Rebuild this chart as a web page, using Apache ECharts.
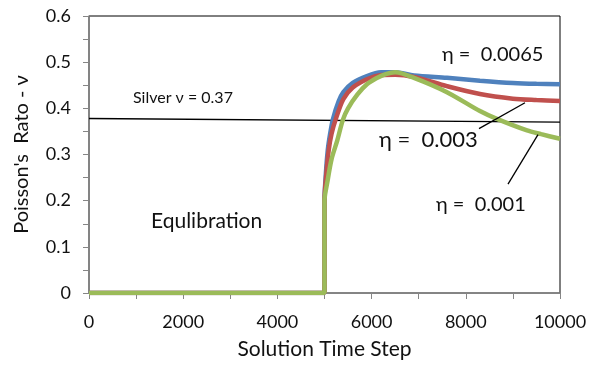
<!DOCTYPE html>
<html>
<head>
<meta charset="UTF-8">
<title>Poisson's ratio</title>
<script src="https://cdn.jsdelivr.net/npm/echarts@6/dist/echarts.min.js"></script>
</head>
<body style="margin:0">
<div id="chart" style="width:597px;height:365px;"></div>
<script type="text/javascript">
// eta = 0.0065
var blueX = [0, 5000, 5000, 5030, 5070, 5120, 5180, 5300, 5400, 5600, 5900, 6200, 6500, 6900, 7600, 8300, 9000, 9500, 10000];
var blueY = [0, 0, 0.2, 0.26, 0.31, 0.345, 0.377, 0.415, 0.435, 0.455, 0.47, 0.478, 0.478, 0.471, 0.466, 0.46, 0.455, 0.453, 0.452];
// eta = 0.003
var redX = [0, 5000, 5000, 5040, 5090, 5150, 5250, 5400, 5600, 5900, 6200, 6500, 6900, 7600, 8300, 9000, 9500, 10000];
var redY = [0, 0, 0.2, 0.26, 0.31, 0.345, 0.38, 0.42, 0.445, 0.463, 0.472, 0.473, 0.468, 0.448, 0.431, 0.421, 0.418, 0.416];
// eta = 0.001
var greenX = [0, 5000, 5000, 5060, 5150, 5270, 5390, 5500, 5700, 5900, 6100, 6300, 6500, 6900, 7600, 8300, 8660, 9300, 9600, 10000];
var greenY = [0, 0, 0.2, 0.24, 0.29, 0.33, 0.375, 0.4, 0.43, 0.452, 0.465, 0.474, 0.478, 0.466, 0.435, 0.394, 0.377, 0.352, 0.344, 0.334];
// silver reference line
var silverX = [0, 10000];
var silverY = [0.378, 0.370];

function pairs(xs, ys) {
	return xs.map(function(x, i) { return [x, ys[i]]; });
}

var font = 'Lato';
var chart = echarts.init(document.getElementById('chart'));
var option = {
	backgroundColor: '#fff',
	animation: false,
	textStyle: { fontFamily: font },
	grid: {
		left: 89, right: 37, top: 16, bottom: 69,
		show: true, borderColor: '#000', borderWidth: 1
	},
	xAxis: {
		type: 'value', min: 0, max: 10000, interval: 2000,
		name: 'Solution Time Step', nameLocation: 'middle', nameGap: 46,
		nameTextStyle: { fontSize: 21, color: '#111', fontFamily: font },
		axisLine: { lineStyle: { color: '#868686', width: 1.5 } },
		axisTick: { inside: false, length: 6, lineStyle: { color: '#868686' } },
		minorTick: { show: true, splitNumber: 2, length: 6, lineStyle: { color: '#868686' } },
		axisLabel: {
			fontSize: 18, color: '#111', margin: 20, fontFamily: font,
			formatter: function(v) { return String(v); }
		},
		splitLine: { show: false }
	},
	yAxis: {
		type: 'value', min: 0, max: 0.6, interval: 0.1,
		name: "Poisson's  Rato - ν", nameLocation: 'middle', nameGap: 57,
		nameTextStyle: { fontSize: 20, color: '#111', fontFamily: font },
		axisLine: { show: true, lineStyle: { color: '#868686', width: 1.5 } },
		axisTick: { show: true, length: 6, lineStyle: { color: '#868686' } },
		minorTick: { show: true, splitNumber: 2, length: 6, lineStyle: { color: '#868686' } },
		axisLabel: { fontSize: 18, color: '#111', margin: 18, fontFamily: font },
		splitLine: { show: false }
	},
	series: [{
		name: 'Silver', type: 'line', showSymbol: false, z: 1,
		data: pairs(silverX, silverY),
		lineStyle: { color: '#000', width: 1.3 }
	}, {
		name: 'eta 0.0065', type: 'line', smooth: 0.3, showSymbol: false, z: 2,
		data: pairs(blueX, blueY),
		lineStyle: { color: '#4F81BD', width: 4.5 }
	}, {
		name: 'eta 0.003', type: 'line', smooth: 0.3, showSymbol: false, z: 3,
		data: pairs(redX, redY),
		lineStyle: { color: '#C0504D', width: 4.5 }
	}, {
		name: 'eta 0.001', type: 'line', smooth: 0.3, showSymbol: false, z: 4,
		data: pairs(greenX, greenY),
		lineStyle: { color: '#9BBB59', width: 4.5 },
		markLine: {
			symbol: 'none', silent: true,
			label: { show: false },
			lineStyle: { color: '#000', type: 'solid', width: 1.3 },
			data: [
				[{ coord: [8280, 0.356] }, { coord: [9257, 0.412] }],
				[{ coord: [8896, 0.236] }, { coord: [9533, 0.343] }]
			]
		}
	}],
	graphic: [
		{ type: 'text', left: 442, top: 45, style: { text: 'η =  0.0065', font: '20px ' + font, fill: '#111' } },
		{ type: 'text', left: 379, top: 129, style: { text: 'η =  0.003', font: '22px ' + font, fill: '#111' } },
		{ type: 'text', left: 436, top: 195, style: { text: 'η =  0.001', font: '20px ' + font, fill: '#111' } },
		{ type: 'text', left: 133, top: 90, style: { text: 'Silver ν = 0.37', font: '16px ' + font, fill: '#111' } },
		{ type: 'text', left: 151, top: 211, style: { text: 'Equlibration', font: '21px ' + font, fill: '#111' } }
	]
};
chart.setOption(option);
</script>
</body>
</html>
